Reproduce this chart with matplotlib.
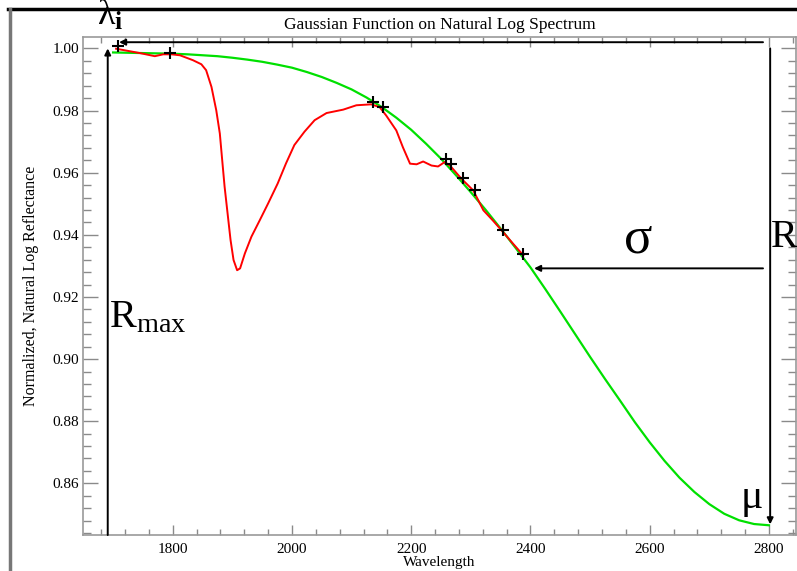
import numpy as np
import matplotlib
matplotlib.use("Agg")
import matplotlib.pyplot as plt
from matplotlib.lines import Line2D
from matplotlib.ticker import MultipleLocator

plt.rcParams['font.family'] = 'serif'
plt.rcParams['font.serif'] = ['Liberation Serif', 'DejaVu Serif']
plt.rcParams['mathtext.fontset'] = 'custom'
plt.rcParams['mathtext.rm'] = 'Liberation Serif'
plt.rcParams['mathtext.it'] = 'Liberation Serif:italic'
plt.rcParams['mathtext.bf'] = 'Liberation Serif:bold'

# -------------------------------------------------------
# Data
# -------------------------------------------------------
# fitted gaussian (green)
gauss_wl = [1700, 1725, 1750, 1775, 1800, 1825, 1850, 1875, 1900, 1925,
            1950, 1975, 2000, 2025, 2050, 2075, 2100, 2125, 2150, 2175,
            2200, 2225, 2250, 2275, 2300, 2325, 2350, 2375, 2400, 2425,
            2450, 2475, 2500, 2525, 2550, 2575, 2600, 2625, 2650, 2675,
            2700, 2725, 2750, 2775, 2800]
gauss_val = [0.9987, 0.9986, 0.9985, 0.9984, 0.9983, 0.9981, 0.9978, 0.9975,
             0.9970, 0.9964, 0.9957, 0.9948, 0.9938, 0.9924, 0.9908, 0.9889,
             0.9868, 0.9842, 0.9812, 0.9777, 0.9738, 0.9693, 0.9645, 0.9592,
             0.9537, 0.9480, 0.9420, 0.9358, 0.9295, 0.9225, 0.9153, 0.9080,
             0.9007, 0.8936, 0.8867, 0.8797, 0.8732, 0.8672, 0.8618, 0.8572,
             0.8533, 0.8502, 0.8481, 0.8469, 0.8465]

# natural log spectrum (red)
spec_wl = [1705, 1745, 1770, 1784, 1798, 1812, 1834, 1848, 1856, 1865,
           1873, 1879, 1883, 1887, 1892, 1897, 1902, 1908, 1913, 1921,
           1932, 1946, 1960, 1976, 1990, 2004, 2021, 2038, 2058, 2086,
           2108, 2133, 2147, 2158, 2175, 2186, 2198, 2209, 2220, 2234,
           2245, 2256, 2265, 2284, 2304, 2321, 2337, 2354, 2371, 2388]
spec_val = [0.9999, 0.9985, 0.9975, 0.9981, 0.9981, 0.9978, 0.9962, 0.9949,
            0.9930, 0.9876, 0.9801, 0.9726, 0.9640, 0.9555, 0.9469, 0.9383,
            0.9319, 0.9286, 0.9292, 0.9340, 0.9394, 0.9447, 0.9501, 0.9565,
            0.9630, 0.9689, 0.9732, 0.9769, 0.9792, 0.9803, 0.9817, 0.9820,
            0.9811, 0.9784, 0.9736, 0.9682, 0.9629, 0.9627, 0.9636, 0.9623,
            0.9620, 0.9634, 0.9623, 0.9581, 0.9543, 0.9479, 0.9446, 0.9409,
            0.9371, 0.9334]

# points used for the fit (black +)
fit_wl = [1708, 1795, 2136, 2152, 2259, 2266, 2287, 2307, 2354, 2388]
fit_val = [1.0008, 0.9986, 0.9829, 0.9811, 0.9645, 0.9629, 0.9583, 0.9543,
           0.9414, 0.9339]

# gaussian parameters marked with arrows
lambda_i = 1710
r_max = 1.0
mu = 2802
r_mu = 0.8468
sigma_wl = 2406
sigma_val = 0.9292

# -------------------------------------------------------
# Figure
# -------------------------------------------------------
fig = plt.figure(figsize=(7.97, 5.71), dpi=100)
ax = fig.add_axes([0.1045, 0.063, 0.894, 0.872])

ax.plot(gauss_wl, gauss_val, color='#00e000', lw=1.6, zorder=2,
        solid_joinstyle='round')
ax.plot(spec_wl, spec_val, color='#ff0000', lw=1.4, zorder=3,
        solid_joinstyle='round')
ax.plot(fit_wl, fit_val, '+', color='black', ms=8, mew=1.5, zorder=4)

ax.set_xlim(1650, 2845)
ax.set_ylim(0.84336, 1.00364)

ax.xaxis.set_major_locator(MultipleLocator(200))
ax.xaxis.set_minor_locator(MultipleLocator(40))
ax.yaxis.set_major_locator(MultipleLocator(0.02))
ax.yaxis.set_minor_locator(MultipleLocator(0.004))
ax.yaxis.set_major_formatter(plt.FormatStrFormatter('%.2f'))

ax.tick_params(axis='both', which='both', direction='in', colors='#8a8a8a',
               labelcolor='black', labelsize=11, top=True, right=True, width=1)
ax.tick_params(axis='x', which='major', length=7.5, pad=6)
ax.tick_params(axis='x', which='minor', length=4)
ax.tick_params(axis='y', which='major', length=11, pad=3)
ax.tick_params(axis='y', which='minor', length=6)
for s in ax.spines.values():
    s.set_color('#9a9a9a')
    s.set_linewidth(1.2)

ax.set_title("Gaussian Function on Natural Log Spectrum", fontsize=12.5, pad=6)
ax.set_xlabel("Wavelength", fontsize=11, labelpad=0)
ax.set_ylabel("Normalized, Natural Log Reflectance", fontsize=11.5, labelpad=10)

# -------------------------------------------------------
# Arrows and labels
# -------------------------------------------------------
arrow = dict(arrowstyle='-|>', color='black', lw=1.4, mutation_scale=9,
             shrinkA=0, shrinkB=0)
y_lo = ax.get_ylim()[0]

# lambda_i (top horizontal)
ax.annotate('', xy=(lambda_i, 1.002), xytext=(2790, 1.002),
            arrowprops=arrow, annotation_clip=False)
# R_max (left vertical)
ax.annotate('', xy=(1691, r_max), xytext=(1691, y_lo),
            arrowprops=arrow, annotation_clip=False)
# R at mu (right vertical)
ax.annotate('', xy=(mu, r_mu), xytext=(mu, r_max),
            arrowprops=arrow, annotation_clip=False)
# sigma (horizontal)
ax.annotate('', xy=(sigma_wl, sigma_val), xytext=(2790, sigma_val),
            arrowprops=arrow, annotation_clip=False)

ax.text(1673, 1.0075, r'$\mathrm{λ}_{\mathbf{i}}$', fontsize=26, ha='left',
        va='baseline', clip_on=False)
ax.text(1693, 0.9103, r'$\mathrm{R}_{\mathrm{max}}$', fontsize=29, ha='left',
        va='baseline')
ax.text(2557, 0.9344, 'σ', fontsize=38, ha='left', va='baseline')
ax.text(2803, 0.9360, 'R', fontsize=29, ha='left', va='baseline',
        clip_on=False)
ax.text(2753, 0.8520, 'μ', fontsize=30, ha='left', va='baseline')

# window frame
fig.add_artist(Line2D([0.010, 1.0], [0.984, 0.984], color='black', lw=2.5,
                      transform=fig.transFigure))
fig.add_artist(Line2D([0.012, 0.012], [0.0, 0.984], color='#777777', lw=2.5,
                      transform=fig.transFigure))

fig.savefig('out.png', dpi=100)
